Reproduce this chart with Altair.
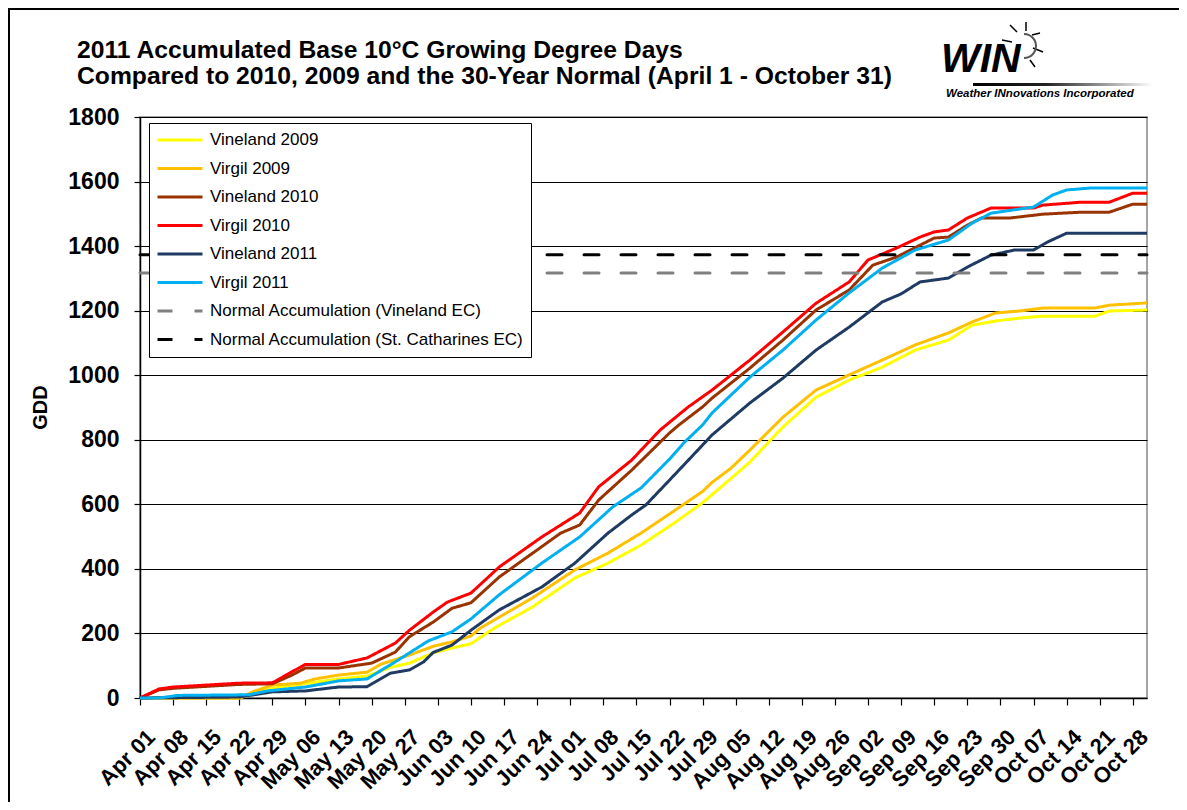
import altair as alt
import pandas as pd
from datetime import datetime, timedelta

START = datetime(2011, 4, 1)

SERIES = [
    "Vineland 2009", "Virgil 2009", "Vineland 2010", "Virgil 2010",
    "Vineland 2011", "Virgil 2011",
    "Normal Accumulation (Vineland EC)",
    "Normal Accumulation (St. Catharines EC)",
]
COLORS = ["#FFFF00", "#FFC000", "#993300", "#FF0000", "#1F3B63", "#00B0F0", "#808080", "#000000"]
DASHES = [[1, 0]] * 6 + [[15, 22], [15, 22]]
WIDTHS = [3] * 6 + [5, 5]

# days after April 1 and accumulated GDD
vineland09_day = [0, 21, 28, 42, 48, 53, 57, 62, 66, 70, 75, 83, 92, 99, 106, 113, 119, 125, 129, 136, 143, 150, 157, 164, 171, 176, 181, 186, 191, 202, 205, 213]
vineland09_gdd = [0, 0, 30, 59, 68, 95, 108, 140, 155, 168, 217, 282, 372, 418, 474, 542, 605, 680, 731, 840, 932, 985, 1025, 1078, 1109, 1155, 1168, 1177, 1183, 1183, 1199, 1202]

virgil09_day = [0, 21, 24, 28, 34, 37, 42, 48, 51, 57, 62, 66, 70, 72, 83, 92, 99, 106, 113, 119, 121, 125, 129, 136, 143, 150, 157, 164, 171, 176, 181, 186, 191, 202, 205, 213]
virgil09_gdd = [0, 0, 20, 40, 46, 59, 71, 80, 105, 133, 160, 174, 192, 217, 310, 397, 449, 511, 580, 640, 668, 712, 768, 870, 954, 1001, 1047, 1094, 1131, 1165, 1193, 1199, 1208, 1208, 1217, 1224]

vineland10_day = [0, 4, 7, 14, 21, 28, 32, 35, 42, 49, 54, 57, 62, 66, 70, 76, 89, 93, 97, 104, 112, 114, 119, 121, 129, 136, 143, 150, 155, 160, 165, 168, 171, 175, 178, 184, 191, 199, 205, 210, 213]
vineland10_gdd = [0, 25, 30, 36, 42, 44, 70, 93, 93, 108, 142, 190, 235, 278, 295, 375, 511, 536, 613, 706, 821, 846, 902, 929, 1022, 1109, 1202, 1264, 1341, 1366, 1403, 1425, 1428, 1465, 1487, 1487, 1499, 1505, 1505, 1530, 1530]

virgil10_day = [0, 4, 7, 14, 21, 28, 32, 35, 42, 48, 54, 57, 62, 65, 70, 76, 85, 93, 97, 104, 110, 116, 121, 129, 136, 143, 150, 154, 160, 165, 168, 171, 175, 180, 189, 191, 199, 205, 210, 213]
virgil10_gdd = [0, 28, 34, 40, 46, 47, 80, 104, 104, 124, 170, 210, 266, 297, 325, 406, 499, 573, 654, 737, 830, 902, 954, 1047, 1134, 1223, 1289, 1357, 1394, 1428, 1444, 1450, 1487, 1518, 1518, 1527, 1536, 1536, 1564, 1564]

vineland11_day = [0, 21, 28, 35, 42, 48, 53, 57, 60, 62, 66, 70, 76, 85, 92, 99, 104, 107, 112, 116, 121, 129, 136, 143, 150, 157, 161, 165, 171, 175, 180, 185, 189, 192, 196, 213]
vineland11_gdd = [0, 3, 19, 22, 34, 35, 77, 87, 112, 141, 164, 210, 273, 344, 418, 511, 567, 598, 675, 737, 815, 914, 991, 1078, 1149, 1227, 1252, 1289, 1301, 1335, 1372, 1388, 1388, 1413, 1440, 1440]

virgil11_day = [0, 4, 8, 23, 27, 35, 42, 48, 54, 61, 66, 70, 76, 85, 93, 100, 106, 112, 115, 119, 121, 129, 136, 143, 150, 157, 164, 171, 176, 180, 189, 193, 196, 201, 213]
virgil11_gdd = [0, 0, 8, 10, 22, 34, 53, 59, 112, 177, 205, 245, 320, 418, 499, 592, 651, 740, 790, 846, 883, 994, 1078, 1171, 1255, 1332, 1388, 1419, 1471, 1502, 1521, 1558, 1574, 1580, 1580]

normal_day = [0, 213]
normal_vineland_gdd = [1317, 1317]
normal_stcath_gdd = [1373, 1373]

TITLE_LINES = ["2011 Accumulated Base 10\u00b0C Growing Degree Days",
               "Compared to 2010, 2009 and the 30-Year Normal (April 1 - October 31)"]

series_data = [
    (SERIES[0], vineland09_day, vineland09_gdd),
    (SERIES[1], virgil09_day, virgil09_gdd),
    (SERIES[2], vineland10_day, vineland10_gdd),
    (SERIES[3], virgil10_day, virgil10_gdd),
    (SERIES[4], vineland11_day, vineland11_gdd),
    (SERIES[5], virgil11_day, virgil11_gdd),
    (SERIES[6], normal_day, normal_vineland_gdd),
    (SERIES[7], normal_day, normal_stcath_gdd),
]

rows = []
for name, days, vals in series_data:
    for d, v in zip(days, vals):
        rows.append({"series": name,
                     "date": (START + timedelta(days=d)).strftime("%Y-%m-%dT%H:%M:%S"),
                     "gdd": v})
df = pd.DataFrame(rows)


def dt(d):
    return alt.DateTime(year=d.year, month=d.month, date=d.day)


tick_dates = [dt(START + timedelta(days=7 * i)) for i in range(31)]
x_domain = [dt(START), dt(datetime(2011, 10, 31))]

FONT = "Liberation Sans"

x_enc = alt.X(
    "date:T",
    scale=alt.Scale(domain=x_domain),
    axis=alt.Axis(
        values=tick_dates, format="%b %d", labelAngle=-45, labelAlign="right",
        labelBaseline="top", labelFont=FONT, labelFontSize=22, labelFontWeight="bold",
        labelColor="black", labelPadding=21, labelOffset=4, labelOverlap=False, labelBound=False,
        labelFlush=False, grid=False, tickSize=7, tickColor="black", tickWidth=1.2,
        domainColor="black", domainWidth=1.5,
    ),
    title=None,
)
y_enc = alt.Y(
    "gdd:Q",
    scale=alt.Scale(domain=[0, 1800], nice=False),
    axis=alt.Axis(
        values=list(range(0, 1801, 200)), format="d", labelFont=FONT, labelFontSize=23,
        labelFontWeight="bold", labelColor="black", labelPadding=15, tickSize=6,
        tickColor="black", tickWidth=1.2, domainColor="black", domainWidth=1.5, grid=True,
        gridColor="black", gridWidth=1, title="GDD", titleFont=FONT, titleFontSize=20,
        titleFontWeight="bold", titleColor="black", titleX=-100, titleY=290,
        titleAngle=270, titleAlign="center", titleBaseline="middle",
    ),
)

leg = alt.Legend(
    orient="none", legendX=9, legendY=6, fillColor="white", strokeColor="black",
    padding=7, symbolType="stroke", symbolSize=2025, labelFont=FONT, labelFontSize=17,
    labelColor="black", labelOffset=6, clipHeight=20, rowPadding=8.5, labelLimit=400,
    title=None,
)
color = alt.Color("series:N", scale=alt.Scale(domain=SERIES, range=COLORS), legend=leg)
dash = alt.StrokeDash("series:N", scale=alt.Scale(domain=SERIES, range=DASHES), legend=leg)
width = alt.StrokeWidth("series:N", scale=alt.Scale(domain=SERIES, range=WIDTHS), legend=leg)

base = alt.Chart(df)
layers = []
for i, name in enumerate(SERIES):
    cap = "round" if i >= 6 else "butt"
    layers.append(
        base.transform_filter(alt.datum.series == name)
        .mark_line(strokeCap=cap, strokeJoin="round")
        .encode(x=x_enc, y=y_enc, color=color, strokeDash=dash, strokeWidth=width)
    )

deco = pd.DataFrame({"k": [0]})
border = alt.Chart(deco).mark_rect(filled=False, fillOpacity=0, stroke="black", strokeWidth=2).encode(
    x=alt.value(-131), x2=alt.value(1100), y=alt.value(-108), y2=alt.value(720)
)
title1 = alt.Chart(deco).mark_text(
    text=TITLE_LINES[0], font=FONT, fontSize=24.7, fontWeight="bold", align="left",
    baseline="alphabetic", color="black"
).encode(x=alt.value(-63), y=alt.value(-59))
title2 = alt.Chart(deco).mark_text(
    text=TITLE_LINES[1], font=FONT, fontSize=24.7, fontWeight="bold", align="left",
    baseline="alphabetic", color="black"
).encode(x=alt.value(-63), y=alt.value(-33))
logo = alt.Chart(deco).mark_text(
    text="WIN", font=FONT, fontSize=41, fontWeight="bold", fontStyle="italic",
    align="left", baseline="alphabetic", color="black"
).encode(x=alt.value(801), y=alt.value(-45))
logo_bar = alt.Chart(deco).mark_rect(
    color=alt.LinearGradient(gradient="linear", stops=[
        alt.GradientStop(offset=0, color="#000000"),
        alt.GradientStop(offset=0.4, color="#222222"),
        alt.GradientStop(offset=1, color="#ffffff")], x1=0, x2=1, y1=0, y2=0),
).encode(x=alt.value(833), x2=alt.value(1013), y=alt.value(-34), y2=alt.value(-31))
logo_sub = alt.Chart(deco).mark_text(
    text="Weather INnovations Incorporated", font=FONT, fontSize=11.5, fontWeight="bold",
    fontStyle="italic", align="left", baseline="alphabetic", color="black"
).encode(x=alt.value(806), y=alt.value(-20))
ray_x = [886, 870, 892, 893, 890, 862]
ray_y = [-95, -92, -82, -69, -57, -77]
ray_x2 = [886, 877, 900, 903, 895, 872]
ray_y2 = [-86, -85, -84, -65, -50, -75]
rays = alt.Chart(pd.DataFrame({"a": ray_x, "b": ray_y, "c": ray_x2, "d": ray_y2})).mark_rule(
    color="black", strokeWidth=1.5
).encode(
    x=alt.X("a:Q", scale=None), y=alt.Y("b:Q", scale=None),
    x2="c:Q", y2="d:Q",
)
sun_arc = alt.Chart(deco).mark_arc(
    radius=13, radius2=11, theta=0, theta2=3.1416, color="#555555"
).encode(x=alt.value(884), y=alt.value(-71))

chart = alt.layer(*layers, border, title1, title2, logo, logo_bar, logo_sub, rays, sun_arc).properties(
    width=1007, height=581,
    autosize=alt.AutoSizeParams(type="none"),
    padding={"left": 132, "top": 109, "right": 32, "bottom": 104},
    background="white",
).configure_view(
    stroke="#888888", strokeWidth=1.5
)

chart.save("out.html", embed_options={"renderer": "svg", "actions": False})
